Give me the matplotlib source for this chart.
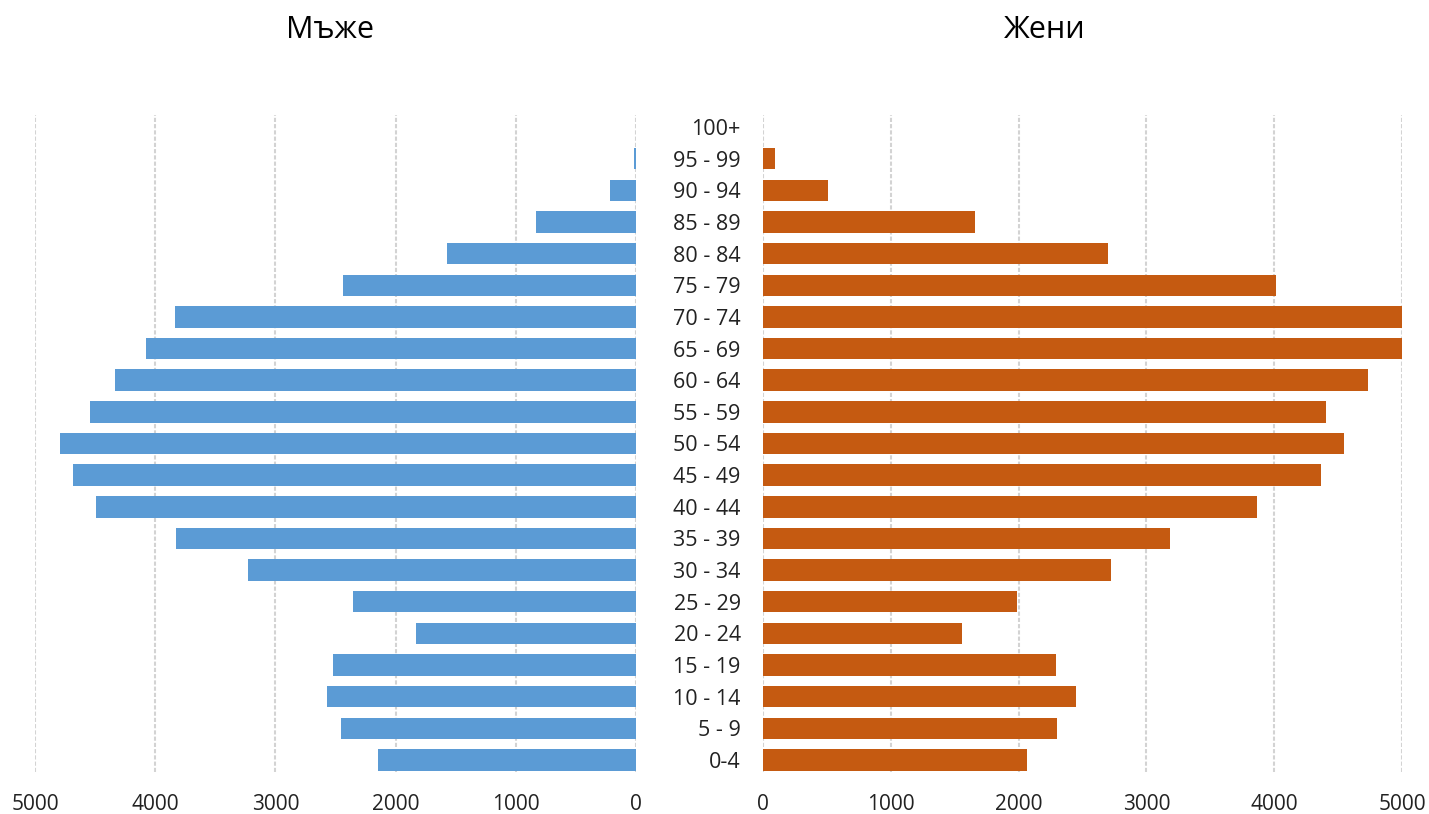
import matplotlib
matplotlib.use('Agg')
import matplotlib.pyplot as plt
import numpy as np

plt.rcParams['font.family'] = ['Open Sans', 'DejaVu Sans']

# възрастови групи (отдолу нагоре)
ages = ['0-4', '5 - 9', '10 - 14', '15 - 19', '20 - 24', '25 - 29', '30 - 34',
        '35 - 39', '40 - 44', '45 - 49', '50 - 54', '55 - 59', '60 - 64',
        '65 - 69', '70 - 74', '75 - 79', '80 - 84', '85 - 89', '90 - 94',
        '95 - 99', '100+']

men = [2146, 2454, 2571, 2521, 1830, 2354, 3228, 3827, 4493, 4684, 4792,
       4542, 4334, 4077, 3835, 2438, 1572, 832, 216, 15, 0]

women = [2066, 2300, 2449, 2293, 1557, 1987, 2723, 3185, 3865, 4366, 4546,
         4405, 4734, 5150, 5120, 4014, 2700, 1659, 509, 94, 0]

xticks = [0, 1000, 2000, 3000, 4000, 5000]

blue = '#5B9BD5'
orange = '#C55A11'
grid_col = '#d3d3d3'

fig = plt.figure(figsize=(14.29, 8.14), dpi=100)
ax1 = fig.add_axes([35 / 1429, 1 - 772 / 814, (636 - 35) / 1429, (772 - 115) / 814])
ax2 = fig.add_axes([763 / 1429, 1 - 772 / 814, (1402 - 763) / 1429, (772 - 115) / 814])

y = np.arange(len(ages))

ax1.barh(y, men, height=0.68, color=blue, zorder=3)
ax1.set_xlim(5000, 0)

ax2.barh(y, women, height=0.68, color=orange, zorder=3)
ax2.set_xlim(0, 5000)

for ax in (ax1, ax2):
    ax.set_ylim(-0.38, 20.38)
    ax.set_xticks(xticks)
    ax.set_xticklabels([str(t) for t in xticks], fontsize=15, color='#222222')
    ax.tick_params(axis='x', length=0, pad=16)
    ax.grid(axis='x', color=grid_col, linewidth=1.5, linestyle=(0, (2, 1)), zorder=0)
    for s in ax.spines.values():
        s.set_visible(False)
    ax.set_axisbelow(True)

ax1.set_yticks([])
ax2.set_yticks(y)
ax2.set_yticklabels(ages, fontsize=15.5, color='#222222')
ax2.tick_params(axis='y', length=0, pad=16)

fig.text(330 / 1429, 1 - 30 / 814, 'Мъже', fontsize=22, ha='center', va='center')
fig.text(1045 / 1429, 1 - 30 / 814, 'Жени', fontsize=22, ha='center', va='center')

plt.savefig('out.png', dpi=100)
plt.close()
